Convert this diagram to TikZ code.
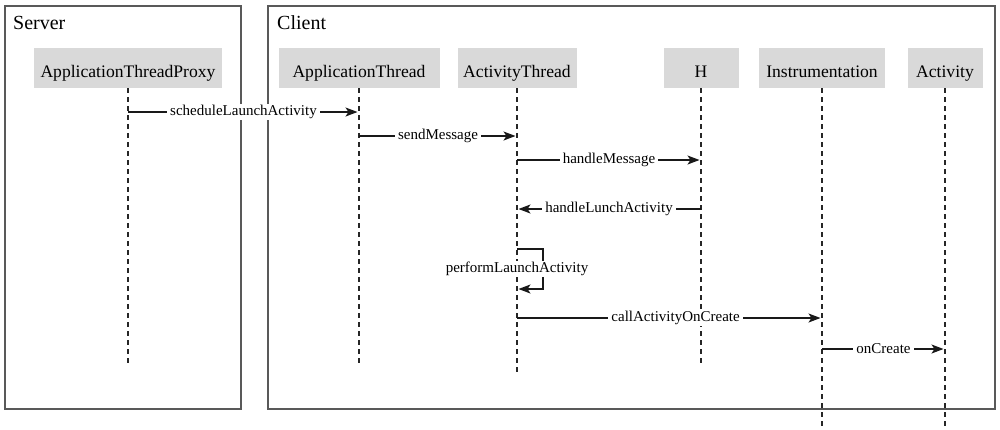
\documentclass[tikz,border=0pt]{standalone}
\usepackage{fontspec}
\setmainfont{Liberation Serif}
\usetikzlibrary{arrows.meta}
\begin{document}
\begin{tikzpicture}[x=1bp,y=-1bp,
  frame/.style={draw=black!65, line width=1.5bp},
  title/.style={anchor=base west, inner sep=0pt, font=\fontsize{20bp}{24bp}\selectfont},
  head/.style={fill=gray!30, minimum height=40bp, inner sep=0pt, text height=18bp, text depth=0bp,
               font=\fontsize{17.6bp}{20bp}\selectfont},
  lifeline/.style={draw=black!85, dash pattern=on 5bp off 4bp, line width=1.1bp},
  msg/.style={draw=black!90, -{Stealth[length=12bp,width=9bp,inset=3bp]}, line width=1.2bp, shorten >=1.5bp},
  lbl/.style={fill=white, inner xsep=3bp, inner ysep=1bp, font=\fontsize{15bp}{17bp}\selectfont}]
\useasboundingbox (0,0) rectangle (1000,429);
\fill[white] (0,0) rectangle (1000,429);

% frames
\draw[frame] (5,6) rectangle (241,409);
\draw[frame] (268,6) rectangle (995,409);
\node[title] (server) at (13,29) {Server};
\node[title] (client) at (277,29) {Client};

% heads
\node[head, minimum width=187bp] (atp) at (128,68) {ApplicationThreadProxy};
\node[head, minimum width=161bp] (apt) at (359,68) {ApplicationThread};
\node[head, minimum width=119bp] (act) at (517,68) {ActivityThread};
\node[head, minimum width=75bp]  (h)   at (701,68) {H};
\node[head, minimum width=126bp] (ins) at (822,68) {Instrumentation};
\node[head, minimum width=75bp]  (acy) at (945,68) {Activity};

% lifeline ends
\coordinate (atpE) at (128,363);
\coordinate (aptE) at (359,363);
\coordinate (actE) at (517,372);
\coordinate (hE)   at (701,365);
\coordinate (insE) at (822,429);
\coordinate (acyE) at (945,429);

\draw[lifeline] (atp.south) -- (atpE);
\draw[lifeline] (apt.south) -- (aptE);
\draw[lifeline] (act.south) -- (actE);
\draw[lifeline] (h.south)   -- (hE);
\draw[lifeline] (ins.south) -- (insE);
\draw[lifeline] (acy.south) -- (acyE);

% messages
\draw[msg] (atp |- 0,112) -- node[lbl] {scheduleLaunchActivity} (apt |- 0,112);
\draw[msg] (apt |- 0,136) -- node[lbl] {sendMessage} (act |- 0,136);
\draw[msg] (act |- 0,160) -- node[lbl] {handleMessage} (h |- 0,160);
\draw[msg] (h |- 0,209) -- node[lbl] {handleLunchActivity} (act |- 0,209);
\draw[msg] (act |- 0,249) -- ++(26,0) -- ++(0,40) -- (act |- 0,289);
\node[lbl] (perf) at (517,269) {performLaunchActivity};
\draw[msg] (act |- 0,318) -- node[lbl, pos=0.52] {callActivityOnCreate} (ins |- 0,318);
\draw[msg] (ins |- 0,349) -- node[lbl] {onCreate} (acy |- 0,349);
\end{tikzpicture}
\end{document}
